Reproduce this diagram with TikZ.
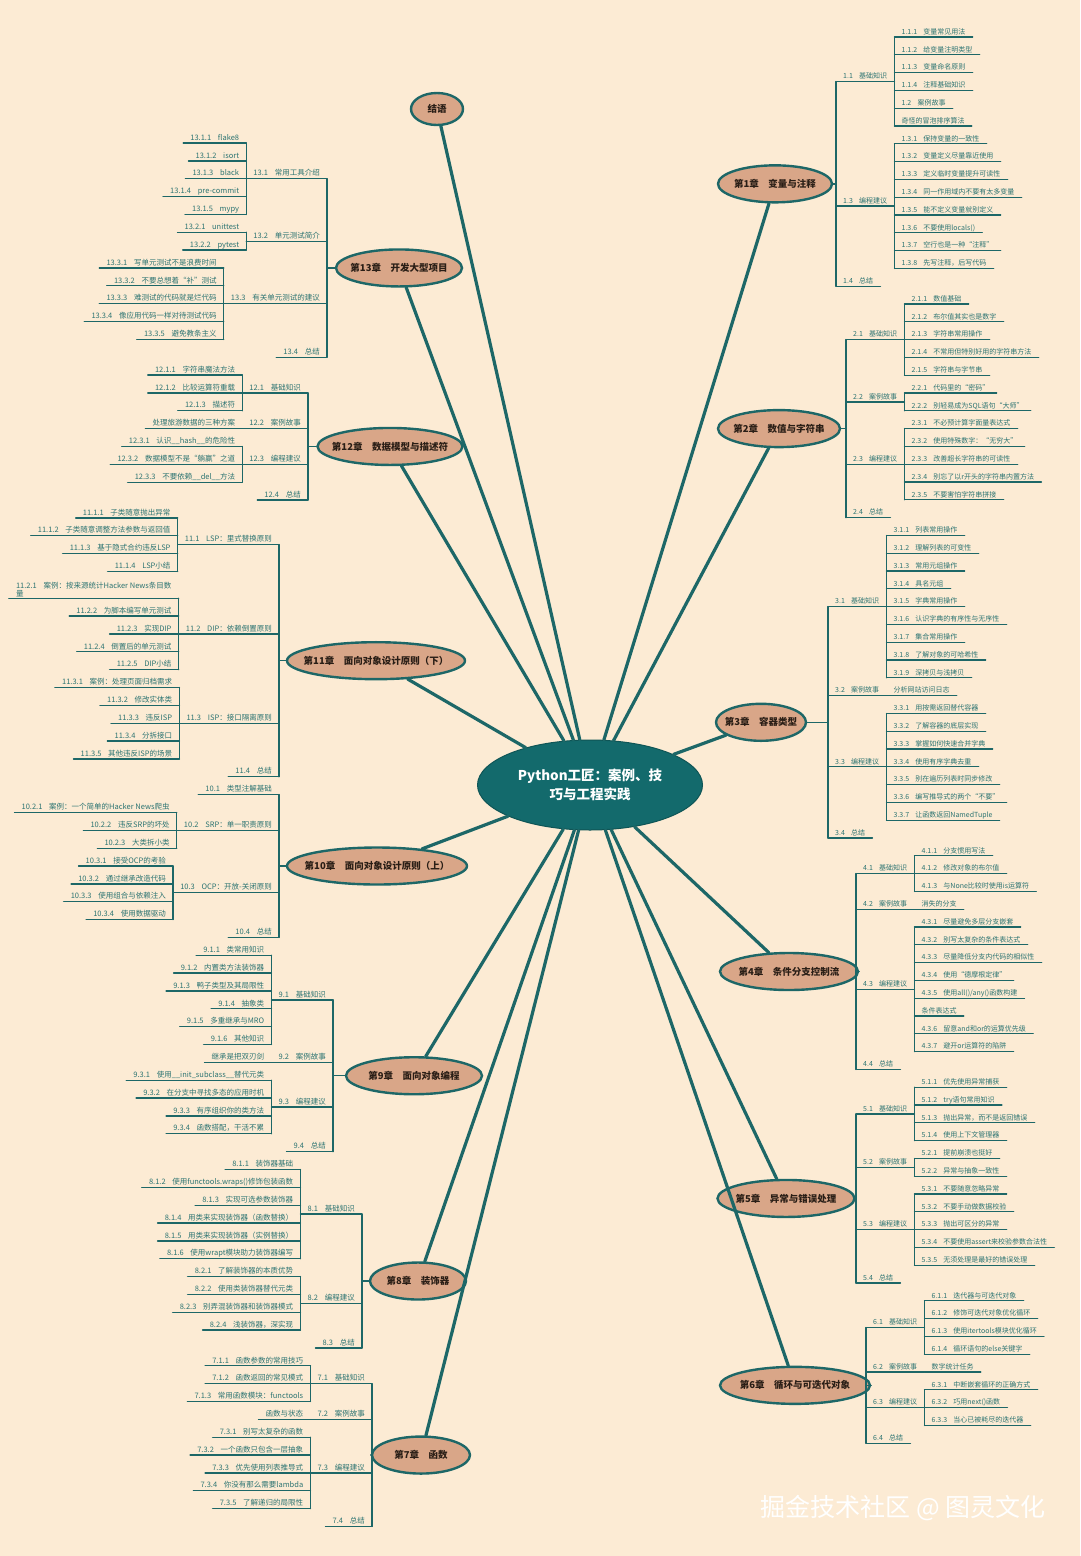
\documentclass[tikz,border=0pt]{standalone}
\usepackage{fontspec}
\setmainfont{Noto Sans CJK SC}
\usepackage{xcolor}
\usetikzlibrary{shapes.geometric,calc}
\definecolor{paper}{HTML}{FCEBD4}
\definecolor{ink}{HTML}{1D6767}
\definecolor{inktext}{HTML}{2C7472}
\definecolor{chapbg}{HTML}{D9A688}
\definecolor{chapink}{HTML}{2A1E16}
\definecolor{hubbg}{HTML}{136A6C}
\newcommand{\numsp}{\hspace{0.9em}}
% slot rows: right column, left column (upper / lower part)
\newcommand{\ry}[1]{37+17.8*#1}
\newcommand{\ly}[1]{143+17.85*#1}
\newcommand{\lz}[1]{152+17.85*#1}
\tikzset{
  twig/.style={draw=ink,line width=1.3pt,line cap=round},
  branch/.style={draw=ink,line width=3.2pt,line cap=round},
  uline/.style={append after command={
    (\tikzlastnode.south west) edge[twig] (\tikzlastnode.south east)}},
  rleaf/.style={uline,anchor=south west,inner xsep=7pt,inner ysep=1pt,
    text=inktext,font=\fontsize{7}{8}\selectfont,text height=5.6pt,text depth=1.5pt},
  lleaf/.style={rleaf,anchor=south east,font=\fontsize{7.5}{8.5}\selectfont,
    text height=6pt,text depth=1.6pt},
  % chapter ovals: width is given per node
  chap/.style={ellipse,draw=ink,line width=2.4pt,fill=chapbg,text=chapink,
    font=\fontsize{9.5}{11}\selectfont\bfseries,inner xsep=-40pt,inner ysep=0pt,
    minimum height=37pt},
  hub/.style={ellipse,draw=hubbg!80!black,line width=1pt,fill=hubbg,text=white,
    font=\fontsize{13.5}{19}\selectfont\bfseries,align=center,
    minimum width=225pt,minimum height=90pt,inner sep=0pt},
  wmark/.style={text=white,font=\fontsize{25}{28}\selectfont},
}
\begin{document}
\begin{tikzpicture}[x=1pt,y=-1pt]
  \fill[paper] (0,0) rectangle (1080,1556);
  \useasboundingbox (0,0) rectangle (1080,1556);
  \foreach \k in {0,...,79} \coordinate (r\k) at (0,{\ry{\k}});
  \foreach \k in {0,...,24} \coordinate (l\k) at (0,{\ly{\k}});
  \foreach \k in {25,...,77} \coordinate (l\k) at (0,{\lz{\k}});

  \node[hub] (hub) at (590,785) {Python工匠：案例、技\\巧与工程实践};

  % ---- right: chapter 1 ----
  \node[chap,minimum width=114pt] (c1) at (775,{\ry{8.25}}) {第1章\quad 变量与注释};
  \node[rleaf] (s11) at (836,{\ry{2.5}}) {1.1\numsp 基础知识};
  \node[rleaf] (s13) at (836,{\ry{9.5}}) {1.3\numsp 编程建议};
  \node[rleaf] (s14) at (836,{\ry{14}})  {1.4\numsp 总结};
  \foreach \t [count=\k from 0] in {1.1.1\numsp 变量常见用法,1.1.2\numsp 给变量注明类型,
    1.1.3\numsp 变量命名原则,1.1.4\numsp 注释基础知识,1.2\numsp 案例故事,奇怪的冒泡排序算法}
    \node[rleaf] (a\k) at (s11.south east |- r\k) {\t};
  \foreach \t [count=\k from 6] in {1.3.1\numsp 保持变量的一致性,1.3.2\numsp 变量定义尽量靠近使用,
    1.3.3\numsp 定义临时变量提升可读性,1.3.4\numsp 同一作用域内不要有太多变量,
    1.3.5\numsp 能不定义变量就别定义,1.3.6\numsp 不要使用locals(),
    1.3.7\numsp 空行也是一种“注释”,1.3.8\numsp 先写注释，后写代码}
    \node[rleaf] (a\k) at (s13.south east |- r\k) {\t};
  \draw[twig] (c1) -- (c1 -| s11.south west);
  \draw[twig] (s11.south west) -- (s14.south west);
  \draw[twig] (a0.south west) -- (a5.south west);
  \draw[twig] (a6.south west) -- (a13.south west);

  % ---- right: chapter 2 ----
  \node[chap,minimum width=122pt] (c2) at (779,{\ry{22}}) {第2章\quad 数值与字符串};
  \node[rleaf] (s21) at (846,{\ry{17}})   {2.1\numsp 基础知识};
  \node[rleaf] (s22) at (846,{\ry{20.5}}) {2.2\numsp 案例故事};
  \node[rleaf] (s23) at (846,{\ry{24}})   {2.3\numsp 编程建议};
  \node[rleaf] (s24) at (846,{\ry{27}})   {2.4\numsp 总结};
  \foreach \t [count=\k from 15] in {2.1.1\numsp 数值基础,2.1.2\numsp 布尔值其实也是数字,
    2.1.3\numsp 字符串常用操作,2.1.4\numsp 不常用但特别好用的字符串方法,2.1.5\numsp 字符串与字节串}
    \node[rleaf] (a\k) at (s21.south east |- r\k) {\t};
  \foreach \t [count=\k from 20] in {2.2.1\numsp 代码里的“密码”,2.2.2\numsp 别轻易成为SQL语句“大师”}
    \node[rleaf] (a\k) at (s22.south east |- r\k) {\t};
  \foreach \t [count=\k from 22] in {2.3.1\numsp 不必预计算字面量表达式,2.3.2\numsp 使用特殊数字：“无穷大”,
    2.3.3\numsp 改善超长字符串的可读性,2.3.4\numsp 别忘了以r开头的字符串内置方法,
    2.3.5\numsp 不要害怕字符串拼接}
    \node[rleaf] (a\k) at (s23.south east |- r\k) {\t};
  \draw[twig] (c2) -- (c2 -| s21.south west);
  \draw[twig] (s21.south west) -- (s24.south west);
  \draw[twig] (a15.south west) -- (a19.south west);
  \draw[twig] (a20.south west) -- (a21.south west);
  \draw[twig] (a22.south west) -- (a26.south west);

  % ---- right: chapter 3 ----
  \node[chap,minimum width=90pt] (c3) at (761,{\ry{38.5}}) {第3章\quad 容器类型};
  \node[rleaf] (s31) at (828,{\ry{32}}) {3.1\numsp 基础知识};
  \node[rleaf] (s32) at (828,{\ry{37}}) {3.2\numsp 案例故事};
  \node[rleaf] (s33) at (828,{\ry{41}}) {3.3\numsp 编程建议};
  \node[rleaf] (s34) at (828,{\ry{45}}) {3.4\numsp 总结};
  \foreach \t [count=\k from 28] in {3.1.1\numsp 列表常用操作,3.1.2\numsp 理解列表的可变性,
    3.1.3\numsp 常用元组操作,3.1.4\numsp 具名元组,3.1.5\numsp 字典常用操作,
    3.1.6\numsp 认识字典的有序性与无序性,3.1.7\numsp 集合常用操作,
    3.1.8\numsp 了解对象的可哈希性,3.1.9\numsp 深拷贝与浅拷贝}
    \node[rleaf] (a\k) at (s31.south east |- r\k) {\t};
  \node[rleaf] (a37) at (s32.south east |- r37) {分析网站访问日志};
  \foreach \t [count=\k from 38] in {3.3.1\numsp 用按需返回替代容器,3.3.2\numsp 了解容器的底层实现,
    3.3.3\numsp 掌握如何快速合并字典,3.3.4\numsp 使用有序字典去重,
    3.3.5\numsp 别在遍历列表时同步修改,3.3.6\numsp 编写推导式的两个“不要”,
    3.3.7\numsp 让函数返回NamedTuple}
    \node[rleaf] (a\k) at (s33.south east |- r\k) {\t};
  \draw[twig] (c3) -- (c3 -| s31.south west);
  \draw[twig] (s31.south west) -- (s34.south west);
  \draw[twig] (a28.south west) -- (a36.south west);
  \draw[twig] (a38.south west) -- (a44.south west);

  % ---- right: chapter 4 ----
  \node[chap,minimum width=138pt] (c4) at (789,{\ry{52.5}}) {第4章\quad 条件分支控制流};
  \node[rleaf] (s41) at (856,{\ry{47}})   {4.1\numsp 基础知识};
  \node[rleaf] (s42) at (856,{\ry{49}})   {4.2\numsp 案例故事};
  \node[rleaf] (s43) at (856,{\ry{53.5}}) {4.3\numsp 编程建议};
  \node[rleaf] (s44) at (856,{\ry{58}})   {4.4\numsp 总结};
  \foreach \t [count=\k from 46] in {4.1.1\numsp 分支惯用写法,4.1.2\numsp 修改对象的布尔值,
    4.1.3\numsp 与None比较时使用is运算符}
    \node[rleaf] (a\k) at (s41.south east |- r\k) {\t};
  \node[rleaf] (a49) at (s42.south east |- r49) {消失的分支};
  \foreach \t [count=\k from 50] in {4.3.1\numsp 尽量避免多层分支嵌套,4.3.2\numsp 别写太复杂的条件表达式,
    4.3.3\numsp 尽量降低分支内代码的相似性,4.3.4\numsp 使用“德摩根定律”,
    4.3.5\numsp 使用all()/any()函数构建,条件表达式,
    4.3.6\numsp 留意and和or的运算优先级,4.3.7\numsp 避开or运算符的陷阱}
    \node[rleaf] (a\k) at (s43.south east |- r\k) {\t};
  \draw[twig] (c4) -- (c4 -| s41.south west);
  \draw[twig] (s41.south west) -- (s44.south west);
  \draw[twig] (a46.south west) -- (a48.south west);
  \draw[twig] (a50.south west) -- (a57.south west);

  % ---- right: chapter 5 ----
  \node[chap,minimum width=137pt] (c5) at (786,{\ry{65.25}}) {第5章\quad 异常与错误处理};
  \node[rleaf] (s51) at (856,{\ry{60.5}}) {5.1\numsp 基础知识};
  \node[rleaf] (s52) at (856,{\ry{63.5}}) {5.2\numsp 案例故事};
  \node[rleaf] (s53) at (856,{\ry{67}})   {5.3\numsp 编程建议};
  \node[rleaf] (s54) at (856,{\ry{70}})   {5.4\numsp 总结};
  \foreach \t [count=\k from 59] in {5.1.1\numsp 优先使用异常捕获,5.1.2\numsp try语句常用知识,
    5.1.3\numsp 抛出异常，而不是返回错误,5.1.4\numsp 使用上下文管理器}
    \node[rleaf] (a\k) at (s51.south east |- r\k) {\t};
  \foreach \t [count=\k from 63] in {5.2.1\numsp 提前崩溃也挺好,5.2.2\numsp 异常与抽象一致性}
    \node[rleaf] (a\k) at (s52.south east |- r\k) {\t};
  \foreach \t [count=\k from 65] in {5.3.1\numsp 不要随意忽略异常,5.3.2\numsp 不要手动做数据校验,
    5.3.3\numsp 抛出可区分的异常,5.3.4\numsp 不要使用assert来校验参数合法性,
    5.3.5\numsp 无须处理是最好的错误处理}
    \node[rleaf] (a\k) at (s53.south east |- r\k) {\t};
  \draw[twig] (c5) -- (c5 -| s51.south west);
  \draw[twig] (s51.south west) -- (s54.south west);
  \draw[twig] (a59.south west) -- (a62.south west);
  \draw[twig] (a63.south west) -- (a64.south west);
  \draw[twig] (a65.south west) -- (a69.south west);

  % ---- right: chapter 6 ----
  \node[chap,minimum width=150pt] (c6) at (795,{\ry{75.75}}) {第6章\quad 循环与可迭代对象};
  \node[rleaf] (s61) at (866,{\ry{72.5}}) {6.1\numsp 基础知识};
  \node[rleaf] (s62) at (866,{\ry{75}})   {6.2\numsp 案例故事};
  \node[rleaf] (s63) at (866,{\ry{77}})   {6.3\numsp 编程建议};
  \node[rleaf] (s64) at (866,{\ry{79}})   {6.4\numsp 总结};
  \foreach \t [count=\k from 71] in {6.1.1\numsp 迭代器与可迭代对象,6.1.2\numsp 修饰可迭代对象优化循环,
    6.1.3\numsp 使用itertools模块优化循环,6.1.4\numsp 循环语句的else关键字}
    \node[rleaf] (a\k) at (s61.south east |- r\k) {\t};
  \node[rleaf] (a75) at (s62.south east |- r75) {数字统计任务};
  \foreach \t [count=\k from 76] in {6.3.1\numsp 中断嵌套循环的正确方式,6.3.2\numsp 巧用next()函数,
    6.3.3\numsp 当心已被耗尽的迭代器}
    \node[rleaf] (a\k) at (s63.south east |- r\k) {\t};
  \draw[twig] (c6) -- (c6 -| s61.south west);
  \draw[twig] (s61.south west) -- (s64.south west);
  \draw[twig] (a71.south west) -- (a74.south west);
  \draw[twig] (a76.south west) -- (a78.south west);

  % ---- left: closing words ----
  \node[chap,minimum width=52pt,minimum height=32pt] (fin) at (437,109) {结语};

  % ---- left: chapter 13 ----
  \node[chap,minimum width=126pt] (c13) at (399,{\ly{7}}) {第13章\quad 开发大型项目};
  \node[lleaf] (t131) at (327,{\ly{2}})   {13.1\numsp 常用工具介绍};
  \node[lleaf] (t132) at (327,{\ly{5.5}}) {13.2\numsp 单元测试简介};
  \node[lleaf] (t133) at (327,{\ly{9}})   {13.3\numsp 有关单元测试的建议};
  \node[lleaf] (t134) at (327,{\ly{12}})  {13.4\numsp 总结};
  \foreach \t [count=\k from 0] in {13.1.1\numsp flake8,13.1.2\numsp isort,13.1.3\numsp black,
    13.1.4\numsp pre-commit,13.1.5\numsp mypy}
    \node[lleaf] (b\k) at (t131.south west |- l\k) {\t};
  \foreach \t [count=\k from 5] in {13.2.1\numsp unittest,13.2.2\numsp pytest}
    \node[lleaf] (b\k) at (t132.south west |- l\k) {\t};
  \foreach \t [count=\k from 7] in {13.3.1\numsp 写单元测试不是浪费时间,13.3.2\numsp 不要总想着“补”测试,
    13.3.3\numsp 难测试的代码就是烂代码,13.3.4\numsp 像应用代码一样对待测试代码,
    13.3.5\numsp 避免教条主义}
    \node[lleaf] (b\k) at (t133.south west |- l\k) {\t};
  \draw[twig] (c13) -- (c13 -| t131.south east);
  \draw[twig] (t131.south east) -- (t134.south east);
  \draw[twig] (b0.south east) -- (b4.south east);
  \draw[twig] (b5.south east) -- (b6.south east);
  \draw[twig] (b7.south east) -- (b11.south east);

  % ---- left: chapter 12 ----
  \node[chap,minimum width=145pt] (c12) at (390,{\ly{17}}) {第12章\quad 数据模型与描述符};
  \node[lleaf] (t121) at (308,{\ly{14}}) {12.1\numsp 基础知识};
  \node[lleaf] (t122) at (308,{\ly{16}}) {12.2\numsp 案例故事};
  \node[lleaf] (t123) at (308,{\ly{18}}) {12.3\numsp 编程建议};
  \node[lleaf] (t124) at (308,{\ly{20}}) {12.4\numsp 总结};
  \foreach \t [count=\k from 13] in {12.1.1\numsp 字符串魔法方法,12.1.2\numsp 比较运算符重载,
    12.1.3\numsp 描述符}
    \node[lleaf] (b\k) at (t121.south west |- l\k) {\t};
  \node[lleaf] (b16) at (t122.south west |- l16) {处理旅游数据的三种方案};
  \foreach \t [count=\k from 17] in {12.3.1\numsp 认识\_\_hash\_\_的危险性,
    12.3.2\numsp 数据模型不是“躺赢”之道,12.3.3\numsp 不要依赖\_\_del\_\_方法}
    \node[lleaf] (b\k) at (t123.south west |- l\k) {\t};
  \draw[twig] (c12) -- (c12 -| t121.south east);
  \draw[twig] (t121.south east) -- (t124.south east);
  \draw[twig] (b13.south east) -- (b15.south east);
  \draw[twig] (b17.south east) -- (b19.south east);

  % ---- left: chapter 11 ----
  \node[chap,minimum width=178pt] (c11) at (376,{(\ly{22.5}+\lz{35})/2})
    {第11章\quad 面向对象设计原则（下）};
  \node[lleaf] (t111) at (279,{\ly{22.5}}) {11.1\numsp LSP：里式替换原则};
  \node[lleaf] (t112) at (279,{\lz{27}})   {11.2\numsp DIP：依赖倒置原则};
  \node[lleaf] (t113) at (279,{\lz{32}})   {11.3\numsp ISP：接口隔离原则};
  \node[lleaf] (t114) at (279,{\lz{35}})   {11.4\numsp 总结};
  \foreach \t [count=\k from 21] in {11.1.1\numsp 子类随意抛出异常,
    11.1.2\numsp 子类随意调整方法参数与返回值,11.1.3\numsp 基于隐式合约违反LSP,
    11.1.4\numsp LSP小结}
    \node[lleaf] (b\k) at (t111.south west |- l\k) {\t};
  \node[lleaf,align=left,text height=,text depth=] (b25) at (t112.south west |- l25)
    {11.2.1\numsp 案例：按来源统计Hacker News条目数\\量};
  \foreach \t [count=\k from 26] in {11.2.2\numsp 为脚本编写单元测试,11.2.3\numsp 实现DIP,
    11.2.4\numsp 倒置后的单元测试,11.2.5\numsp DIP小结}
    \node[lleaf] (b\k) at (t112.south west |- l\k) {\t};
  \foreach \t [count=\k from 30] in {11.3.1\numsp 案例：处理页面归档需求,11.3.2\numsp 修改实体类,
    11.3.3\numsp 违反ISP,11.3.4\numsp 分拆接口,11.3.5\numsp 其他违反ISP的场景}
    \node[lleaf] (b\k) at (t113.south west |- l\k) {\t};
  \draw[twig] (c11) -- (c11 -| t111.south east);
  \draw[twig] (t111.south east) -- (t114.south east);
  \draw[twig] (b21.south east) -- (b24.south east);
  \draw[twig] (b25.south east) -- (b29.south east);
  \draw[twig] (b30.south east) -- (b34.south east);

  % ---- left: chapter 10 ----
  \node[chap,minimum width=180pt] (c10) at (377,{\lz{40}}) {第10章\quad 面向对象设计原则（上）};
  \node[lleaf] (t101) at (279,{\lz{36}})   {10.1\numsp 类型注解基础};
  \node[lleaf] (t102) at (279,{\lz{38}})   {10.2\numsp SRP：单一职责原则};
  \node[lleaf] (t103) at (279,{\lz{41.5}}) {10.3\numsp OCP：开放-关闭原则};
  \node[lleaf] (t104) at (279,{\lz{44}})   {10.4\numsp 总结};
  \foreach \t [count=\k from 37] in {10.2.1\numsp 案例：一个简单的Hacker News爬虫,
    10.2.2\numsp 违反SRP的坏处,10.2.3\numsp 大类拆小类}
    \node[lleaf] (b\k) at (t102.south west |- l\k) {\t};
  \foreach \t [count=\k from 40] in {10.3.1\numsp 接受OCP的考验,10.3.2\numsp 通过继承改造代码,
    10.3.3\numsp 使用组合与依赖注入,10.3.4\numsp 使用数据驱动}
    \node[lleaf] (b\k) at (t103.south west |- l\k) {\t};
  \draw[twig] (c10) -- (c10 -| t101.south east);
  \draw[twig] (t101.south east) -- (t104.south east);
  \draw[twig] (b37.south east) -- (b39.south east);
  \draw[twig] (b40.south east) -- (b43.south east);

  % ---- left: chapter 9 ----
  \node[chap,minimum width=136pt] (c9) at (414,{\lz{51.75}}) {第9章\quad 面向对象编程};
  \node[lleaf] (t91) at (333,{\lz{47.5}}) {9.1\numsp 基础知识};
  \node[lleaf] (t92) at (333,{\lz{51}})   {9.2\numsp 案例故事};
  \node[lleaf] (t93) at (333,{\lz{53.5}}) {9.3\numsp 编程建议};
  \node[lleaf] (t94) at (333,{\lz{56}})   {9.4\numsp 总结};
  \foreach \t [count=\k from 45] in {9.1.1\numsp 类常用知识,9.1.2\numsp 内置类方法装饰器,
    9.1.3\numsp 鸭子类型及其局限性,9.1.4\numsp 抽象类,9.1.5\numsp 多重继承与MRO,
    9.1.6\numsp 其他知识}
    \node[lleaf] (b\k) at (t91.south west |- l\k) {\t};
  \node[lleaf] (b51) at (t92.south west |- l51) {继承是把双刃剑};
  \foreach \t [count=\k from 52] in {9.3.1\numsp 使用\_\_init\_subclass\_\_替代元类,
    9.3.2\numsp 在分支中寻找多态的应用时机,9.3.3\numsp 有序组织你的类方法,
    9.3.4\numsp 函数搭配，干活不累}
    \node[lleaf] (b\k) at (t93.south west |- l\k) {\t};
  \draw[twig] (c9) -- (c9 -| t91.south east);
  \draw[twig] (t91.south east) -- (t94.south east);
  \draw[twig] (b45.south east) -- (b50.south east);
  \draw[twig] (b52.south east) -- (b55.south east);

  % ---- left: chapter 8 ----
  \node[chap,minimum width=96pt] (c8) at (418,{\lz{63.25}}) {第8章\quad 装饰器};
  \node[lleaf] (t81) at (362,{\lz{59.5}}) {8.1\numsp 基础知识};
  \node[lleaf] (t82) at (362,{\lz{64.5}}) {8.2\numsp 编程建议};
  \node[lleaf] (t83) at (362,{\lz{67}})   {8.3\numsp 总结};
  \foreach \t [count=\k from 57] in {8.1.1\numsp 装饰器基础,
    8.1.2\numsp 使用functools.wraps()修饰包装函数,8.1.3\numsp 实现可选参数装饰器,
    8.1.4\numsp 用类来实现装饰器（函数替换）,8.1.5\numsp 用类来实现装饰器（实例替换）,
    8.1.6\numsp 使用wrapt模块助力装饰器编写}
    \node[lleaf] (b\k) at (t81.south west |- l\k) {\t};
  \foreach \t [count=\k from 63] in {8.2.1\numsp 了解装饰器的本质优势,8.2.2\numsp 使用类装饰器替代元类,
    8.2.3\numsp 别弄混装饰器和装饰器模式,8.2.4\numsp 浅装饰器，深实现}
    \node[lleaf] (b\k) at (t82.south west |- l\k) {\t};
  \draw[twig] (c8) -- (c8 -| t81.south east);
  \draw[twig] (t81.south east) -- (t83.south east);
  \draw[twig] (b57.south east) -- (b62.south east);
  \draw[twig] (b63.south east) -- (b66.south east);

  % ---- left: chapter 7 ----
  \node[chap,minimum width=98pt] (c7) at (421,{\lz{73}}) {第7章\quad 函数};
  \node[lleaf] (t71) at (372,{\lz{69}}) {7.1\numsp 基础知识};
  \node[lleaf] (t72) at (372,{\lz{71}}) {7.2\numsp 案例故事};
  \node[lleaf] (t73) at (372,{\lz{74}}) {7.3\numsp 编程建议};
  \node[lleaf] (t74) at (372,{\lz{77}}) {7.4\numsp 总结};
  \foreach \t [count=\k from 68] in {7.1.1\numsp 函数参数的常用技巧,7.1.2\numsp 函数返回的常见模式,
    7.1.3\numsp 常用函数模块：functools}
    \node[lleaf] (b\k) at (t71.south west |- l\k) {\t};
  \node[lleaf] (b71) at (t72.south west |- l71) {函数与状态};
  \foreach \t [count=\k from 72] in {7.3.1\numsp 别写太复杂的函数,7.3.2\numsp 一个函数只包含一层抽象,
    7.3.3\numsp 优先使用列表推导式,7.3.4\numsp 你没有那么需要lambda,
    7.3.5\numsp 了解递归的局限性}
    \node[lleaf] (b\k) at (t73.south west |- l\k) {\t};
  \draw[twig] (c7) -- (c7 -| t71.south east);
  \draw[twig] (t71.south east) -- (t74.south east);
  \draw[twig] (b68.south east) -- (b70.south east);
  \draw[twig] (b72.south east) -- (b76.south east);

  % ---- hub to chapters ----
  \foreach \c in {fin,c13,c12,c11,c10,c9,c8,c7,c1,c2,c3,c4,c5,c6}
    \draw[branch] (hub) -- (\c);

  \node[wmark] (wm) at (903,1508) {掘金技术社区 @ 图灵文化};
\end{tikzpicture}
\end{document}
